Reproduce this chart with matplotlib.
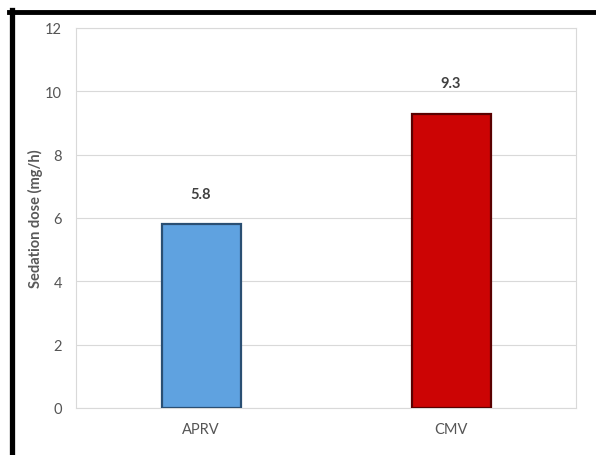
import matplotlib
matplotlib.use("Agg")
import matplotlib.pyplot as plt
from matplotlib.lines import Line2D

categories = ["APRV", "CMV"]
values = [5.8, 9.3]
labels = ["5.8", "9.3"]
yticks = [0, 2, 4, 6, 8, 10, 12]

face_colors = ["#5FA2E0", "#CC0404"]
edge_colors = ["#2A4F73", "#5A0000"]

plt.rcParams['font.family'] = ['Lato', 'DejaVu Sans']

fig = plt.figure(figsize=(5.96, 4.56), dpi=100)
ax = fig.add_axes([76/596, 47/456, 500/596, 380/456])

x = list(range(len(categories)))
bars = ax.bar(x, values, width=0.316, color=face_colors, edgecolor=edge_colors,
              linewidth=1.6, zorder=3)

for xi, v, lab in zip(x, values, labels):
    ax.annotate(lab, (xi, v), xytext=(0, 17), textcoords="offset points",
                ha="center", va="bottom", fontsize=10.5, fontweight="bold",
                color="#404040")

ax.set_xlim(-0.5, len(categories) - 0.5)
ax.set_ylim(0, 12)
ax.set_yticks(yticks)
ax.set_yticklabels([str(t) for t in yticks])
ax.set_xticks(x)
ax.set_xticklabels(categories)
ax.tick_params(axis="both", length=0, colors="#555555", labelsize=10.5)
ax.tick_params(axis="y", pad=10)
ax.tick_params(axis="x", pad=10)
ax.grid(axis="y", color="#D9D9D9", linewidth=0.8, zorder=0)
for s in ax.spines.values():
    s.set_color("#D9D9D9")
    s.set_linewidth(0.8)

ax.set_ylabel("Sedation dose (mg/h)", fontsize=10.5, fontweight="bold",
              color="#595959")
ax.yaxis.set_label_coords(-0.066, 0.5)

# outer black frame (top and left edges visible)
fig.add_artist(Line2D([9/596, 1.0], [1 - 13/456, 1 - 13/456],
                      transform=fig.transFigure, color="black", linewidth=3.5))
fig.add_artist(Line2D([11.5/596, 11.5/596], [0, 1 - 11/456],
                      transform=fig.transFigure, color="black", linewidth=3.8))

fig.savefig("out.png", dpi=100)
